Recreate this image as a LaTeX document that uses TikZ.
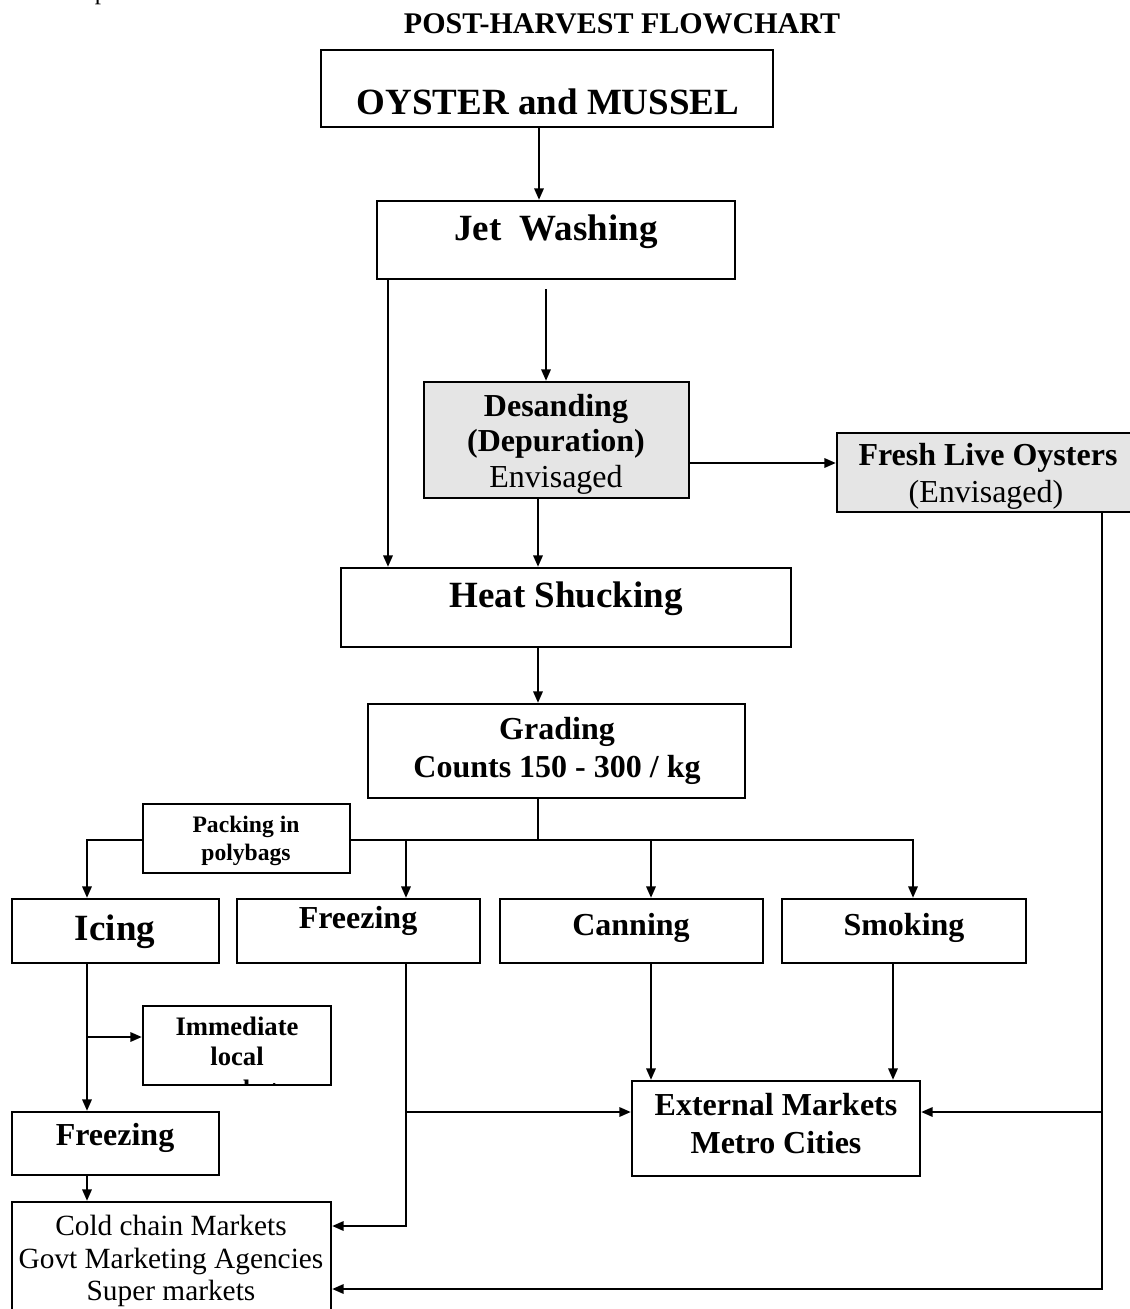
\documentclass[tikz,border=0pt]{standalone}
\usepackage{fontspec}
\setmainfont{Liberation Serif}
\usetikzlibrary{arrows.meta,fit,calc,backgrounds}
\begin{document}
\begin{tikzpicture}[x=0.75pt,y=-0.75pt,
  boxst/.style={draw, line width=1.8pt, fill=white, inner sep=0pt},
  grayst/.style={boxst, fill=gray!20},
  ln/.style={line width=1.5pt},
  arr/.style={line width=1.5pt, -{Triangle[length=8.5pt,width=7pt]}},
  tx/.style={anchor=base, inner sep=0pt},
  fbig/.style={tx, font=\fontsize{27.75}{30}\selectfont\bfseries},
  fmid/.style={tx, font=\fontsize{24}{26}\selectfont\bfseries},
  fmidr/.style={tx, font=\fontsize{24}{26}\selectfont},
  ftitle/.style={tx, font=\fontsize{22.5}{24}\selectfont\bfseries},
  fcold/.style={tx, font=\fontsize{22}{24}\selectfont},
  fimm/.style={tx, font=\fontsize{20}{22}\selectfont\bfseries},
  fpack/.style={tx, font=\fontsize{17.7}{20}\selectfont\bfseries},
  ftop/.style={tx, font=\fontsize{18.75}{20}\selectfont}]
\useasboundingbox (0,0) rectangle (1130,1309);

% cut-off text line at the very top
\begin{scope}
  \clip (0,0) rectangle (1130,9);
  \node[ftop, anchor=base west] (toptext) at (21,0) {of the species.};
\end{scope}

\node[ftitle] (title) at (622,34) {POST-HARVEST FLOWCHART};

% boxes
\node[boxst, fit={(321,50) (773,127)}] (oyster) {};
\node[boxst, fit={(377,201) (735,279)}] (jet) {};
\node[grayst, fit={(424,382) (689,498)}] (desand) {};
\node[grayst, fit={(837,433) (1136,512)}] (fresh) {};
\node[boxst, fit={(341,568) (791,647)}] (heat) {};
\node[boxst, fit={(368,704) (745,798)}] (grading) {};
\node[boxst, fit={(143,804) (350,873)}] (packing) {};
\node[boxst, fit={(12,899) (219,963)}] (icing) {};
\node[boxst, fit={(237,899) (480,963)}] (freezing) {};
\node[boxst, fit={(500,899) (763,963)}] (canning) {};
\node[boxst, fit={(782,899) (1026,963)}] (smoking) {};
\node[boxst, fit={(143,1006) (331,1085)}] (immediate) {};
\node[boxst, fit={(12,1112) (219,1175)}] (freezing2) {};
\node[boxst, fit={(632,1081) (920,1176)}] (external) {};
\node[boxst, fit={(12,1202) (331,1322)}] (cold) {};

% texts
\node[fbig] (toyster) at (548,115) {OYSTER and MUSSEL};
\node[fbig] (tjet) at (556,240) {Jet\ \ Washing};
\node[fmid] (tdes1) at (556,416) {Desanding};
\node[fmid] (tdes2) at (556,451) {(Depuration)};
\node[fmidr] (tdes3) at (556,487) {Envisaged};
\node[fmid] (tfre1) at (988,465) {Fresh Live Oysters};
\node[fmidr] (tfre2) at (986,502) {(Envisaged)};
\node[fbig] (theat) at (566,607) {Heat Shucking};
\node[fmid] (tgr1) at (557,739) {Grading};
\node[fmid] (tgr2) at (557,777) {Counts 150 - 300 / kg};
\node[fpack] (tpk1) at (246,832) {Packing in};
\node[fpack] (tpk2) at (246,860) {polybags};
\node[fbig] (tice) at (115,940) {Icing};
\node[fmid] (tfrz) at (358,928) {Freezing};
\node[fmid] (tcan) at (631,935) {Canning};
\node[fmid] (tsmo) at (904,935) {Smoking};
\node[fimm] (tim1) at (237,1035) {Immediate};
\node[fimm] (tim2) at (237,1065) {local};
\begin{scope}
  \clip (143,1006) rectangle (331,1084);
  \node[fimm] (tim3) at (237,1098) {market};
\end{scope}
\node[fmid] (tfrz2) at (115,1145) {Freezing};
\node[fmid] (text1) at (776,1115) {External Markets};
\node[fmid] (text2) at (776,1153) {Metro Cities};
\node[fcold] (tco1) at (171,1235) {Cold chain Markets};
\node[fcold] (tco2) at (171,1268) {Govt Marketing Agencies};
\node[fcold] (tco3) at (171,1300) {Super markets};

% column / row helpers
\coordinate (cA) at (539,0);
\coordinate (cL) at (388,0);
\coordinate (cD) at (546,0);
\coordinate (cH) at (538,0);
\coordinate (c1) at (87,0);
\coordinate (c2) at (406,0);
\coordinate (c3) at (651,0);
\coordinate (c4) at (913,0);
\coordinate (c5) at (893,0);
\coordinate (cR) at (1102,0);
\coordinate (rF) at (0,463);
\coordinate (rB) at (0,840);
\coordinate (rI) at (0,1037);
\coordinate (rE) at (0,1112);
\coordinate (rC1) at (0,1226);
\coordinate (rC2) at (0,1289);

\begin{scope}[on background layer]
\draw[arr] (cA |- oyster.south) -- (cA |- jet.north);
\draw[arr] (cL |- jet.south) -- (cL |- heat.north);
\draw[arr] ($(cD |- jet.south)+(0,9)$) -- (cD |- desand.north);
\draw[arr] (desand.east |- rF) -- (fresh.west |- rF);
\draw[arr] (cH |- desand.south) -- (cH |- heat.north);
\draw[arr] (cH |- heat.south) -- (cH |- grading.north);
\draw[ln] (cH |- grading.south) -- (cH |- rB);
\draw[arr] (c3 |- rB) -- (c1 |- rB) -- (c1 |- icing.north);
\draw[arr] (c2 |- rB) -- (c4 |- rB) -- (c4 |- smoking.north);
\draw[arr] (c2 |- rB) -- (c2 |- freezing.north);
\draw[arr] (c3 |- rB) -- (c3 |- canning.north);
\draw[arr] (c1 |- icing.south) -- (c1 |- freezing2.north);
\draw[arr] (c1 |- rI) -- (immediate.west |- rI);
\draw[arr] (c1 |- freezing2.south) -- (c1 |- cold.north);
\draw[arr] (c2 |- freezing.south) -- (c2 |- rC1) -- (cold.east |- rC1);
\draw[arr] (c2 |- rE) -- (external.west |- rE);
\draw[arr] (c3 |- canning.south) -- (c3 |- external.north);
\draw[arr] (c5 |- smoking.south) -- (c5 |- external.north);
\draw[arr] (cR |- fresh.south) -- (cR |- rC2) -- (cold.east |- rC2);
\draw[arr] (cR |- rE) -- (external.east |- rE);
\end{scope}
\end{tikzpicture}
\end{document}
